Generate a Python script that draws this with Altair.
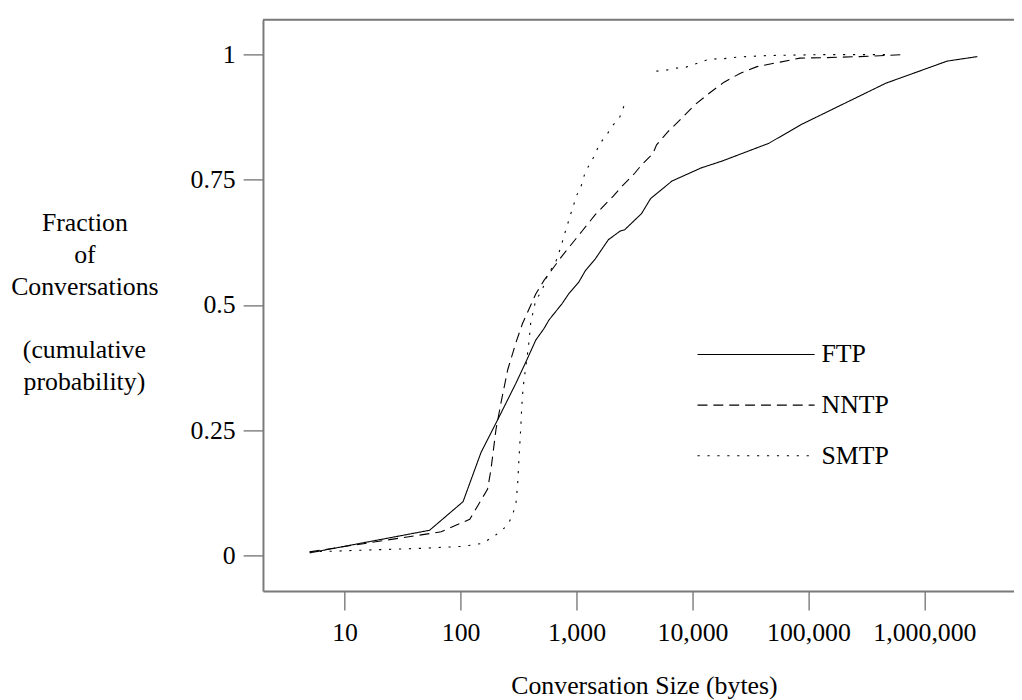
import altair as alt
import pandas as pd

# ---- data ----
ftp_x = [5, 54, 105, 150, 216, 300, 365, 445, 524, 578, 752, 855, 1042, 1189, 1452,
         1880, 2366, 2600, 3630, 4350, 6650, 11830, 18080, 45300, 87300, 465000,
         1570000, 2860000]
ftp_y = [0.006, 0.051, 0.108, 0.206, 0.278, 0.344, 0.386, 0.43, 0.453, 0.47, 0.503,
         0.522, 0.545, 0.568, 0.592, 0.630, 0.647, 0.650, 0.682, 0.712, 0.747, 0.773,
         0.787, 0.822, 0.860, 0.942, 0.986, 0.995]

nntp_x = [5, 68, 120, 171, 183, 202, 223, 255, 300, 342, 445, 524, 752, 1114, 1450,
          2075, 2450, 3186, 3630, 4560, 4900, 6120, 7980, 10360, 13930, 18700, 25900,
          36000, 57000, 84600, 143000, 275000, 689000]
nntp_y = [0.008, 0.048, 0.073, 0.133, 0.173, 0.252, 0.305, 0.371, 0.425, 0.463, 0.522,
          0.549, 0.598, 0.647, 0.68, 0.717, 0.736, 0.763, 0.779, 0.802, 0.819, 0.845,
          0.871, 0.898, 0.922, 0.944, 0.962, 0.975, 0.984, 0.992, 0.993, 0.995, 0.999]

smtp_x1 = [5, 45, 105, 155, 202, 255, 281, 300, 310, 320, 331, 337, 346, 365, 385, 403,
           445, 500, 560, 660, 728, 802, 915, 1010, 1099, 1189, 1286, 1400, 1496, 1597,
           1706, 1880, 2010, 2366, 2450, 2580]
smtp_y1 = [0.008, 0.015, 0.019, 0.025, 0.042, 0.061, 0.082, 0.104, 0.14, 0.2, 0.259,
           0.298, 0.335, 0.377, 0.417, 0.465, 0.51, 0.527, 0.559, 0.585, 0.614, 0.647,
           0.69, 0.72, 0.738, 0.765, 0.779, 0.794, 0.809, 0.822, 0.831, 0.844, 0.855,
           0.875, 0.885, 0.898]
smtp_x2 = [4880, 5930, 7220, 8790, 11070, 13930, 18700, 24300, 43900, 74100, 143000, 460000]
smtp_y2 = [0.966, 0.968, 0.972, 0.974, 0.982, 0.99, 0.991, 0.994, 0.997, 0.998, 0.999, 0.999]

protocols = ["FTP", "NNTP", "SMTP"]
x_ticks = [10, 100, 1000, 10000, 100000, 1000000]
y_ticks = [0, 0.25, 0.5, 0.75, 1]
y_title = ["Fraction", "of", "Conversations"]
y_subtitle = ["(cumulative", "probability)"]

rows = []
for x, y in zip(ftp_x, ftp_y):
    rows.append({"size": x, "frac": y, "proto": "FTP", "seg": "FTP"})
for x, y in zip(nntp_x, nntp_y):
    rows.append({"size": x, "frac": y, "proto": "NNTP", "seg": "NNTP"})
for x, y in zip(smtp_x1, smtp_y1):
    rows.append({"size": x, "frac": y, "proto": "SMTP", "seg": "SMTP-a"})
for x, y in zip(smtp_x2, smtp_y2):
    rows.append({"size": x, "frac": y, "proto": "SMTP", "seg": "SMTP-b"})
df = pd.DataFrame(rows)

FONT = "Liberation Serif"
W, H = 757, 576
FRAME = "#7a7a7a"

lines = alt.Chart(df).mark_line(color="black", strokeCap="butt").encode(
    x=alt.X("size:Q",
            scale=alt.Scale(type="log", domain=[1.977, 5.92e6], nice=False),
            axis=alt.Axis(values=x_ticks, format=",d", grid=False,
                          domainColor=FRAME, domainWidth=2,
                          tickColor=FRAME, tickWidth=1.4, tickSize=19,
                          labelFont=FONT, labelFontSize=26, labelColor="black",
                          labelPadding=9.5, labelFlush=False, labelOverlap=False,
                          title="Conversation Size (bytes)", titleFont=FONT,
                          titleFontSize=26, titleFontWeight="normal", titleColor="black",
                          titleX=384, titleY=103.5, titleAlign="center",
                          titleBaseline="alphabetic")),
    y=alt.Y("frac:Q",
            scale=alt.Scale(domain=[-0.0702, 1.0686], nice=False, zero=False),
            axis=alt.Axis(values=y_ticks, format=".2~f", grid=False,
                          domainColor=FRAME, domainWidth=2,
                          tickColor=FRAME, tickWidth=1.4, tickSize=20,
                          labelFont=FONT, labelFontSize=26, labelColor="black",
                          labelPadding=8, labelFlush=False, labelOverlap=False,
                          title=y_title,
                          titleFont=FONT, titleFontSize=26, titleFontWeight="normal",
                          titleColor="black", titleAngle=0, titleAlign="center",
                          titleBaseline="alphabetic", titleX=-180, titleY=213,
                          titleLineHeight=32)),
    strokeDash=alt.StrokeDash("proto:N",
                              scale=alt.Scale(domain=protocols,
                                              range=[[1, 0], [10, 6], [2.2, 7.8]]),
                              legend=alt.Legend(orient="none", legendX=437, legendY=312,
                                                title=None, symbolType="stroke",
                                                symbolSize=13924, symbolStrokeWidth=1.4,
                                                symbolStrokeColor="black",
                                                labelFont=FONT, labelFontSize=26,
                                                labelColor="black", labelOffset=6,
                                                clipHeight=51, rowPadding=0, padding=0,
                                                symbolOffset=0)),
    strokeWidth=alt.StrokeWidth("proto:N",
                                scale=alt.Scale(domain=protocols, range=[1.1, 1.1, 2.1]),
                                legend=None),
    detail="seg:N",
)

one = alt.Data(values=[{"k": 1}])

top_frame = alt.Chart(one).mark_rule(
    color=FRAME, strokeWidth=2
).encode(x=alt.value(0), x2=alt.value(W), y=alt.value(0))

sub_title = alt.Chart(one).mark_text(
    text=y_subtitle, font=FONT, fontSize=26, color="black", align="center",
    baseline="alphabetic", lineHeight=32
).encode(x=alt.value(-180), y=alt.value(341))

chart = alt.layer(lines, top_frame, sub_title).properties(
    width=W, height=H,
    autosize=alt.AutoSizeParams(type="none"),
    padding={"left": 257, "top": 9, "right": 0, "bottom": 107},
).configure_view(stroke=None).configure(background="white")

chart.save("out.html", embed_options={"renderer": "svg", "actions": False})
